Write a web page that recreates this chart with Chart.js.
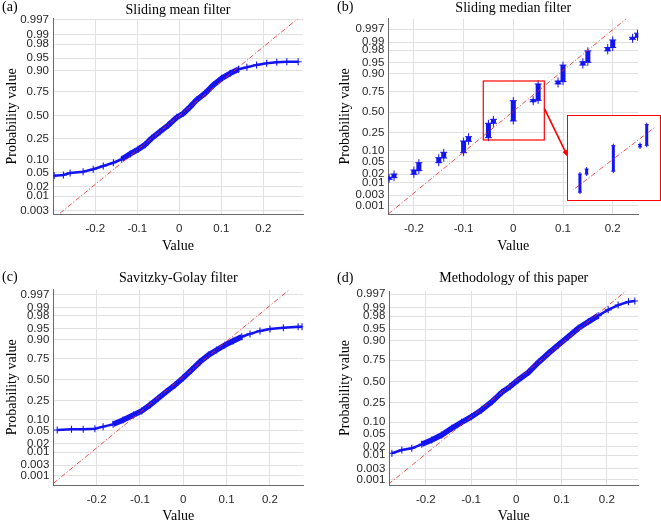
<!DOCTYPE html>
<html>
<head>
<meta charset="utf-8">
<script src="https://cdn.jsdelivr.net/npm/chart.js@4.4.1/dist/chart.umd.min.js"></script>
<style>
  html, body { margin: 0; padding: 0; background: #fff; }
  body { width: 661px; height: 520px; position: relative; overflow: hidden; }
  .panel { position: absolute; }
  .tag { position: absolute; font: 14px "Liberation Serif", serif; color: #000; line-height: 16px; }
  #insetBox { position: absolute; left: 567px; top: 115px; width: 94px; height: 86px;
              border: 1px solid #ff0000; box-sizing: border-box; background: #fff; }
</style>
</head>
<body>
<div class="panel" style="left:0;top:0"><canvas id="chartA" width="330" height="260"></canvas></div>
<div class="panel" style="left:330px;top:0"><canvas id="chartB" width="331" height="260"></canvas></div>
<div class="panel" style="left:0;top:260px"><canvas id="chartC" width="330" height="270"></canvas></div>
<div class="panel" style="left:330px;top:260px"><canvas id="chartD" width="331" height="270"></canvas></div>
<div id="insetBox"><canvas id="chartInset" width="92" height="84"></canvas></div>
<div class="tag" style="left:2px;top:-1px">(a)</div>
<div class="tag" style="left:337px;top:-1px">(b)</div>
<div class="tag" style="left:2px;top:269px">(c)</div>
<div class="tag" style="left:337px;top:270px">(d)</div>

<script>
// tick positions and labels
const probTicks = [0.001, 0.003, 0.01, 0.02, 0.05, 0.10, 0.25, 0.50, 0.75, 0.90, 0.95, 0.98, 0.99, 0.997];
const probTickLabels = ['0.001', '0.003', '0.01', '0.02', '0.05', '0.10', '0.25', '0.50', '0.75', '0.90', '0.95', '0.98', '0.99', '0.997'];
const valueTicks = [-0.2, -0.1, 0, 0.1, 0.2];
const valueTickLabels = ['-0.2', '-0.1', '0', '0.1', '0.2'];

// (a) sliding mean filter
const meanX = [-0.298, -0.276, -0.260, -0.229, -0.205, -0.181, -0.157, -0.137, -0.117, -0.098, -0.082, -0.066, -0.046, -0.026, -0.006, 0.010, 0.026, 0.041, 0.061, 0.081, 0.101, 0.121, 0.141, 0.161, 0.184, 0.208, 0.232, 0.256, 0.283];
const meanP = [0.041, 0.043, 0.048, 0.052, 0.060, 0.072, 0.086, 0.103, 0.133, 0.164, 0.197, 0.254, 0.319, 0.390, 0.477, 0.524, 0.598, 0.671, 0.737, 0.809, 0.857, 0.887, 0.908, 0.917, 0.927, 0.933, 0.937, 0.939, 0.939];
const meanRefX = [-0.284, 0.283];
const meanRefP = [0.0024, 0.9974];

// (b) sliding median filter: each value is a vertical run of points
const medianX = [-0.25, -0.24, -0.20, -0.19, -0.15, -0.14, -0.10, -0.09, -0.05, -0.04, 0, 0.04, 0.05, 0.09, 0.10, 0.14, 0.15, 0.19, 0.20, 0.24, 0.25];
const medianLow = [0.0132, 0.0152, 0.020, 0.0266, 0.0476, 0.0651, 0.0905, 0.1685, 0.200, 0.358, 0.387, 0.637, 0.654, 0.826, 0.845, 0.941, 0.951, 0.979, 0.984, 0.9922, 0.9935];
const medianHigh = [0.0157, 0.0205, 0.028, 0.0476, 0.0664, 0.0926, 0.171, 0.2095, 0.358, 0.408, 0.650, 0.662, 0.826, 0.850, 0.941, 0.953, 0.979, 0.984, 0.9917, 0.9935, 0.9956];
const medianRefX = [-0.2515, 0.228];
const medianRefP = [0.00038, 0.99907];
const zoomBoxX = [-0.0604, 0.0624];
const zoomBoxP = [0.1795, 0.850];
const arrowFrom = [0.0624, 0.5527];
const arrowTo = [0.1095, 0.0708];

// (c) Savitzky-Golay filter
const sgX = [-0.291, -0.258, -0.231, -0.204, -0.185, -0.162, -0.139, -0.115, -0.096, -0.077, -0.058, -0.039, -0.019, 0.000, 0.019, 0.039, 0.058, 0.077, 0.096, 0.115, 0.135, 0.154, 0.177, 0.200, 0.231, 0.265, 0.274];
const sgP = [0.053, 0.056, 0.056, 0.058, 0.066, 0.076, 0.098, 0.129, 0.158, 0.209, 0.276, 0.352, 0.434, 0.527, 0.624, 0.720, 0.787, 0.831, 0.868, 0.894, 0.917, 0.930, 0.942, 0.949, 0.953, 0.956, 0.956];
const sgRefX = [-0.300, 0.246];
const sgRefP = [0.00043, 0.9982];

// (d) methodology of this paper
const paperX = [-0.275, -0.253, -0.231, -0.209, -0.187, -0.165, -0.143, -0.121, -0.099, -0.077, -0.054, -0.032, -0.014, 0.004, 0.027, 0.049, 0.071, 0.093, 0.115, 0.137, 0.159, 0.181, 0.203, 0.225, 0.248, 0.262];
const paperP = [0.0117, 0.0152, 0.0174, 0.0236, 0.0322, 0.0454, 0.0694, 0.0985, 0.133, 0.184, 0.261, 0.365, 0.434, 0.518, 0.613, 0.726, 0.812, 0.875, 0.921, 0.953, 0.970, 0.981, 0.988, 0.992, 0.994, 0.9944];
const paperRefX = [-0.2828, 0.2475];
const paperRefP = [0.00058, 0.9982];

const BLUE = 'rgb(20,20,240)';
const RED = 'rgba(235,45,45,0.9)';
const SERIF = '"Liberation Serif", "Times New Roman", serif';
const SANS = '"Liberation Sans", Arial, sans-serif';

// inverse standard normal cdf (Acklam) - places probabilities on the normal-probability axis
function norminv(p) {
    const a = [-3.969683028665376e+01, 2.209460984245205e+02, -2.759285104469687e+02, 1.383577518672690e+02, -3.066479806614716e+01, 2.506628277459239e+00];
    const b = [-5.447609879822406e+01, 1.615858368580409e+02, -1.556989798598866e+02, 6.680131188771972e+01, -1.328068155288572e+01];
    const c = [-7.784894002430293e-03, -3.223964580411365e-01, -2.400758277161838e+00, -2.549732539343734e+00, 4.374664141464968e+00, 2.938163982698783e+00];
    const d = [7.784695709041462e-03, 3.224671290700398e-01, 2.445134137142996e+00, 3.754408661907416e+00];
    const pl = 0.02425;
    let q, r;
    if (p < pl) {
        q = Math.sqrt(-2 * Math.log(p));
        return (((((c[0]*q+c[1])*q+c[2])*q+c[3])*q+c[4])*q+c[5]) / ((((d[0]*q+d[1])*q+d[2])*q+d[3])*q+1);
    }
    if (p > 1 - pl) {
        q = Math.sqrt(-2 * Math.log(1 - p));
        return -(((((c[0]*q+c[1])*q+c[2])*q+c[3])*q+c[4])*q+c[5]) / ((((d[0]*q+d[1])*q+d[2])*q+d[3])*q+1);
    }
    q = p - 0.5; r = q * q;
    return (((((a[0]*r+a[1])*r+a[2])*r+a[3])*r+a[4])*r+a[5])*q / (((((b[0]*r+b[1])*r+b[2])*r+b[3])*r+b[4])*r+1);
}

const toPoints = (xs, ps) => xs.map((x, i) => ({ x: x, y: norminv(ps[i]) }));

function refDataset(xs, ps) {
    return {
        data: toPoints(xs, ps), showLine: true, borderColor: RED, borderWidth: 0.9,
        borderDash: [5, 2, 1.2, 2], pointRadius: 0, order: 0
    };
}

function scalesFor(p) {
    return {
        x: {
            type: 'linear', min: p.xMin, max: p.xMax,
            afterBuildTicks: s => { s.ticks = valueTicks.map((v, i) => ({ value: v, label: valueTickLabels[i] })); },
            afterFit: s => { s.height = p.xHeight; },
            ticks: { autoSkip: false, maxRotation: 0, padding: p.xTickPad, color: '#262626',
                     font: { family: SANS, size: 11.5 }, callback: (v, i, t) => t[i].label },
            grid: { color: '#e1e1e1', drawTicks: false },
            border: { color: '#6a6a6a' },
            title: { display: true, text: 'Value', color: '#000', font: { family: SERIF, size: 14 },
                     padding: { top: 0, bottom: p.xTitlePad } }
        },
        y: {
            type: 'linear', min: p.zMin, max: p.zMax,
            afterBuildTicks: s => {
                s.ticks = probTicks.map((v, i) => ({ value: norminv(v), label: probTickLabels[i] }))
                    .filter(t => t.value >= s.min && t.value <= s.max);
            },
            afterFit: s => { s.width = p.yWidth; },
            ticks: { autoSkip: false, padding: 4, color: '#262626',
                     font: { family: SANS, size: 11.5 }, callback: (v, i, t) => t[i].label },
            grid: { color: '#e1e1e1', drawTicks: false },
            border: { color: '#6a6a6a' },
            title: { display: true, text: 'Probability value', color: '#000', font: { family: SERIF, size: 14 },
                     padding: { top: p.yTitlePad, bottom: 0 } }
        }
    };
}

function baseOptions(p) {
    return {
        responsive: false,
        animation: false,
        layout: { padding: { left: 0, top: p.padTop, right: p.padRight, bottom: 0 } },
        plugins: {
            legend: { display: false },
            tooltip: { enabled: false },
            title: { display: true, text: p.title, fullSize: false, color: '#000',
                     font: { family: SERIF, size: 14, weight: 'normal' }, padding: p.titlePad }
        },
        scales: scalesFor(p)
    };
}

function probPlot(p) {
    const inCore = x => x >= p.core[0] && x <= p.core[1];
    new Chart(document.getElementById(p.id), {
        type: 'scatter',
        data: {
            datasets: [
                refDataset(p.refX, p.refP),
                {
                    data: toPoints(p.xs, p.ps), showLine: true, borderColor: BLUE, borderWidth: 2.5,
                    segment: { borderWidth: ctx => (inCore(ctx.p0.parsed.x) && inCore(ctx.p1.parsed.x)) ? 5.5 : 2.5 },
                    pointStyle: 'cross', pointRadius: 3.5, pointBorderWidth: 1.1,
                    pointBorderColor: BLUE, order: 1
                }
            ]
        },
        options: baseOptions(p)
    });
}

probPlot({ id: 'chartA', title: 'Sliding mean filter', xs: meanX, ps: meanP, refX: meanRefX, refP: meanRefP,
           xMin: -0.3007, xMax: 0.2945, zMin: -2.843, zMax: 2.782, core: [-0.15, 0.15],
           padTop: 0, padRight: 27, titlePad: { top: 2, bottom: 0 }, yWidth: 53, xHeight: 46,
           yTitlePad: 3.6, xTitlePad: 5.6, xTickPad: 8 });

probPlot({ id: 'chartC', title: 'Savitzky-Golay filter', xs: sgX, ps: sgP, refX: sgRefX, refP: sgRefP,
           xMin: -0.300, xMax: 0.277, zMin: -3.383, zMax: 2.907, core: [-0.165, 0.14],
           padTop: 9.6, padRight: 26.7, titlePad: { top: 0, bottom: 3 }, yWidth: 53.3, xHeight: 45,
           yTitlePad: 3.6, xTitlePad: 5.6, xTickPad: 7.5 });

probPlot({ id: 'chartD', title: 'Methodology of this paper', xs: paperX, ps: paperP, refX: paperRefX, refP: paperRefP,
           xMin: -0.2807, xMax: 0.2696, zMin: -3.268, zMax: 2.852, core: [-0.215, 0.2],
           padTop: 9.6, padRight: 22.7, titlePad: { top: 0, bottom: 4.6 }, yWidth: 59.3, xHeight: 45,
           yTitlePad: 6.6, xTitlePad: 5.6, xTickPad: 7.5 });

// (b): vertical runs, broken apart with null rows
function medianRuns() {
    const pts = [];
    medianX.forEach((x, i) => {
        pts.push({ x: x, y: norminv(medianLow[i]) }, { x: x, y: norminv(medianHigh[i]) }, { x: x, y: null });
    });
    return pts;
}

const zoomBoxPlugin = {
    id: 'zoomBox',
    afterDatasetsDraw(chart) {
        const { ctx, scales: { x, y } } = chart;
        const x0 = x.getPixelForValue(zoomBoxX[0]), x1 = x.getPixelForValue(zoomBoxX[1]);
        const y0 = y.getPixelForValue(norminv(zoomBoxP[1])), y1 = y.getPixelForValue(norminv(zoomBoxP[0]));
        ctx.save();
        ctx.strokeStyle = '#ff0000';
        ctx.lineWidth = 1.2;
        ctx.strokeRect(x0, y0, x1 - x0, y1 - y0);
        const ax0 = x.getPixelForValue(arrowFrom[0]), ay0 = y.getPixelForValue(norminv(arrowFrom[1]));
        const ax1 = x.getPixelForValue(arrowTo[0]), ay1 = y.getPixelForValue(norminv(arrowTo[1]));
        const ang = Math.atan2(ay1 - ay0, ax1 - ax0);
        ctx.lineWidth = 1.6;
        ctx.beginPath();
        ctx.moveTo(ax0, ay0);
        ctx.lineTo(ax1 - 5 * Math.cos(ang), ay1 - 5 * Math.sin(ang));
        ctx.stroke();
        ctx.fillStyle = '#ff0000';
        ctx.beginPath();
        ctx.moveTo(ax1, ay1);
        ctx.lineTo(ax1 - 7 * Math.cos(ang - 0.4), ay1 - 7 * Math.sin(ang - 0.4));
        ctx.lineTo(ax1 - 7 * Math.cos(ang + 0.4), ay1 - 7 * Math.sin(ang + 0.4));
        ctx.closePath();
        ctx.fill();
        ctx.restore();
    }
};

const medianOpts = baseOptions({ title: 'Sliding median filter', xMin: -0.2515, xMax: 0.2515, zMin: -3.368, zMax: 3.096,
    padTop: 0, padRight: 22.7, titlePad: { top: 0, bottom: 2 }, yWidth: 58.3, xHeight: 46,
    yTitlePad: 6.6, xTitlePad: 5.6, xTickPad: 8 });

new Chart(document.getElementById('chartB'), {
    type: 'scatter',
    data: {
        datasets: [
            refDataset(medianRefX, medianRefP),
            {
                data: medianRuns(), showLine: true, spanGaps: false, borderColor: BLUE, borderWidth: 5,
                pointStyle: 'cross', pointRadius: 3.5, pointBorderWidth: 1, pointBorderColor: BLUE, order: 1
            }
        ]
    },
    options: medianOpts,
    plugins: [zoomBoxPlugin]
});

// inset: the boxed region drawn again at a larger scale
new Chart(document.getElementById('chartInset'), {
    type: 'scatter',
    data: {
        datasets: [
            refDataset(medianRefX, medianRefP),
            {
                data: medianRuns(), showLine: true, spanGaps: false, borderColor: BLUE, borderWidth: 3,
                pointStyle: 'cross', pointRadius: 2, pointBorderWidth: 1, pointBorderColor: BLUE, order: 1
            }
        ]
    },
    options: {
        responsive: false,
        animation: false,
        layout: { padding: 0 },
        plugins: { legend: { display: false }, tooltip: { enabled: false } },
        scales: {
            x: { display: false, min: zoomBoxX[0], max: zoomBoxX[1] },
            y: { display: false, min: norminv(zoomBoxP[0]), max: norminv(zoomBoxP[1]) }
        }
    }
});
</script>
</body>
</html>
